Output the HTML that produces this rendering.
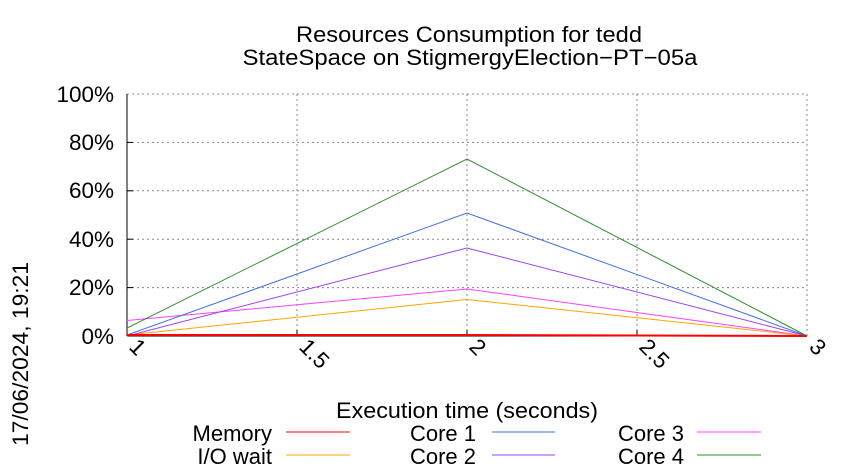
<!DOCTYPE html>
<html><head><style>body{margin:0;background:#fff}svg{display:block}text{font-family:"Liberation Sans",sans-serif;fill:#000}</style></head><body>
<svg width="850" height="475" xmlns="http://www.w3.org/2000/svg">
<rect width="850" height="475" fill="#fff"/>
<text x="469" y="42" font-size="22" text-anchor="middle" textLength="346" lengthAdjust="spacingAndGlyphs">Resources Consumption for tedd</text>
<text x="470" y="65" font-size="22" text-anchor="middle" textLength="455" lengthAdjust="spacingAndGlyphs">StateSpace on StigmergyElection−PT−05a</text>
<g stroke="#888" stroke-width="1" stroke-dasharray="2,3">
<line x1="127" y1="94" x2="807" y2="94"/><line x1="127" y1="142.4" x2="807" y2="142.4"/><line x1="127" y1="190.8" x2="807" y2="190.8"/><line x1="127" y1="239.2" x2="807" y2="239.2"/><line x1="127" y1="287.6" x2="807" y2="287.6"/>
<line x1="297" y1="94" x2="297" y2="336"/><line x1="467" y1="94" x2="467" y2="336"/><line x1="637" y1="94" x2="637" y2="336"/><line x1="807" y1="94" x2="807" y2="336"/>
</g>
<g stroke="#000" stroke-width="1">
<line x1="127" y1="94" x2="127" y2="336"/><line x1="127" y1="336" x2="807" y2="336"/>
<line x1="297" y1="336" x2="297" y2="330"/><line x1="467" y1="336" x2="467" y2="330"/><line x1="637" y1="336" x2="637" y2="330"/>
<line x1="127" y1="142.4" x2="133" y2="142.4"/><line x1="127" y1="190.8" x2="133" y2="190.8"/><line x1="127" y1="239.2" x2="133" y2="239.2"/><line x1="127" y1="287.6" x2="133" y2="287.6"/>
</g>
<g font-size="22.5" text-anchor="end">
<text x="114" y="102">100%</text><text x="114" y="150">80%</text><text x="114" y="198">60%</text><text x="114" y="247">40%</text><text x="114" y="295">20%</text><text x="114" y="344">0%</text>
</g>
<g font-size="22.5">
<text transform="translate(128,348) rotate(45)">1</text>
<text transform="translate(298,348) rotate(45)">1.5</text>
<text transform="translate(468,348) rotate(45)">2</text>
<text transform="translate(638,348) rotate(45)">2.5</text>
<text transform="translate(808,348) rotate(45)">3</text>
</g>
<text x="336" y="418" font-size="22" textLength="262" lengthAdjust="spacingAndGlyphs">Execution time (seconds)</text>
<text transform="translate(28,446) rotate(-90)" font-size="22.5" textLength="184" lengthAdjust="spacingAndGlyphs">17/06/2024, 19:21</text>
<g fill="none" stroke-width="1">
<polyline stroke="#ff40ff" points="127,320.5 467,289 807,336"/>
<polyline stroke="#ffa500" points="127,335 467,299.5 807,336"/>
<polyline stroke="#a040f0" points="127,336 467,248 807,336"/>
<polyline stroke="#4070e0" points="127,335 467,213 807,336"/>
<polyline stroke="#2e8b2e" points="127,328 467,159 807,336"/>
<polyline stroke="#ff0000" stroke-width="2" points="127,335 467,335 807,336"/>
</g>
<g font-size="22" text-anchor="end">
<text x="272" y="441">Memory</text><text x="272" y="464">I/O wait</text>
<text x="476" y="441">Core 1</text><text x="476" y="464">Core 2</text>
<text x="684" y="441">Core 3</text><text x="684" y="464">Core 4</text>
</g>
<g stroke-width="1">
<line x1="286" y1="432" x2="350" y2="432" stroke="#ff0000"/>
<line x1="286" y1="455" x2="350" y2="455" stroke="#ffa500"/>
<line x1="492" y1="432" x2="555" y2="432" stroke="#4070e0"/>
<line x1="492" y1="455" x2="555" y2="455" stroke="#a040f0"/>
<line x1="697" y1="432" x2="761" y2="432" stroke="#ff40ff"/>
<line x1="697" y1="455" x2="761" y2="455" stroke="#2e8b2e"/>
</g>
</svg>
</body></html>
